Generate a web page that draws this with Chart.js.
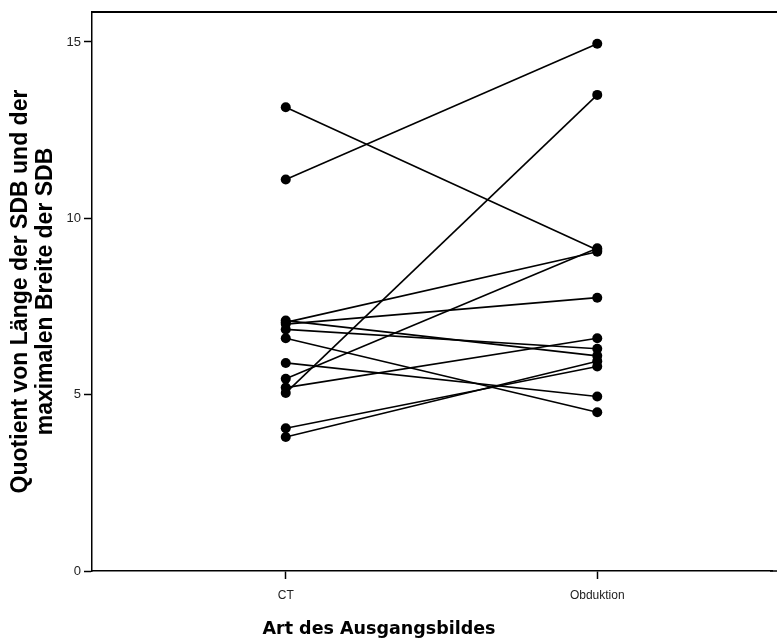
<!DOCTYPE html>
<html>
<head>
<meta charset="utf-8">
<script src="https://cdn.jsdelivr.net/npm/chart.js@4/dist/chart.umd.min.js"></script>
<style>
  html, body { margin: 0; padding: 0; background: #fff; }
  #chart { display: block; }
</style>
</head>
<body>
<canvas id="chart" width="777" height="642"></canvas>
<script>
// Paired values: CT -> Obduktion, one entry per case
const categories = ['CT', 'Obduktion'];
const ctValues  = [11.1, 13.15, 5.05, 7.05, 5.45, 7.0, 7.1, 6.6, 5.9, 5.2, 4.05, 3.8, 6.85];
const obdValues = [14.95, 9.1, 13.5, 9.05, 9.15, 7.75, 6.1, 4.5, 4.95, 6.6, 5.8, 5.95, 6.3];
const yTicks = [0, 5, 10, 15];
const xTitle = 'Art des Ausgangsbildes';

// one line per case
const datasets = ctValues.map(function(ct, i) {
  return {
    data: [{ x: 0, y: ct }, { x: 1, y: obdValues[i] }],
    borderColor: '#000',
    backgroundColor: '#000',
    borderWidth: 1.6,
    pointRadius: 5,
    pointBorderWidth: 0,
    pointHoverRadius: 5
  };
});

// top frame line, x axis running to the edge, and the x title
const frame = {
  id: 'frame',
  afterDraw(chart) {
    const a = chart.chartArea;
    const ctx = chart.ctx;
    ctx.save();
    ctx.strokeStyle = '#000';
    ctx.lineWidth = 2;
    ctx.beginPath();
    ctx.moveTo(a.left, a.top);
    ctx.lineTo(chart.width, a.top);
    ctx.stroke();
    ctx.lineWidth = 1.5;
    ctx.beginPath();
    ctx.moveTo(a.right - 2, a.bottom);
    ctx.lineTo(chart.width, a.bottom);
    ctx.stroke();
    ctx.fillStyle = '#000';
    ctx.font = 'bold 17.5px "DejaVu Sans"';
    ctx.textAlign = 'center';
    ctx.textBaseline = 'middle';
    ctx.fillText(xTitle, 379, 629);
    ctx.restore();
  }
};

new Chart(document.getElementById('chart'), {
  type: 'line',
  data: { datasets: datasets },
  plugins: [frame],
  options: {
    responsive: false,
    animation: false,
    layout: { padding: { top: 12, right: 0, left: 0, bottom: 0 } },
    plugins: { legend: { display: false }, tooltip: { enabled: false } },
    scales: {
      x: {
        type: 'linear',
        min: -0.622,
        max: 1.561,
        afterBuildTicks(axis) {
          axis.ticks = [{ value: 0 }, { value: 1 }];
        },
        afterFit(axis) { axis.height = 71; },
        ticks: {
          callback: function(v) { return categories[v]; },
          color: '#222',
          font: { family: 'Liberation Sans, Arial', size: 12 },
          padding: 9,
          maxRotation: 0,
          autoSkip: false
        },
        grid: { display: true, drawOnChartArea: false, tickLength: 8, color: '#000', tickWidth: 1.5 },
        border: { display: true, color: '#000', width: 1.5 }
      },
      y: {
        min: 0,
        max: 15.85,
        afterBuildTicks(axis) {
          axis.ticks = yTicks.map(function(v) { return { value: v }; });
        },
        afterFit(axis) { axis.width = 92; },
        ticks: {
          color: '#222',
          font: { family: 'Liberation Sans, Arial', size: 13 },
          padding: 3
        },
        grid: { display: true, drawOnChartArea: false, tickLength: 8, color: '#000', tickWidth: 1.5 },
        border: { display: true, color: '#000', width: 1.5 },
        title: {
          display: true,
          text: ['Quotient von Länge der SDB und der', 'maximalen Breite der SDB'],
          color: '#000',
          font: { family: 'Liberation Sans, Arial', size: 23, weight: 'bold', lineHeight: 1.05 },
          padding: { top: 9, bottom: 4 }
        }
      }
    }
  }
});
</script>
</body>
</html>
